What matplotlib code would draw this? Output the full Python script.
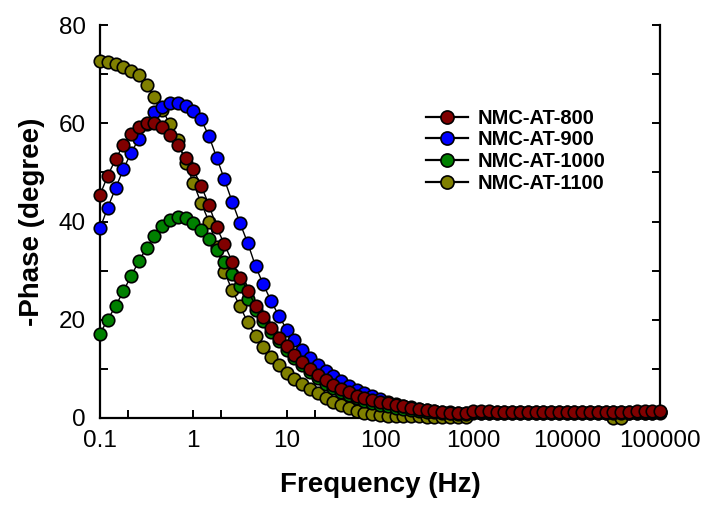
import numpy as np
import matplotlib
matplotlib.use("Agg")
import matplotlib.pyplot as plt
from matplotlib.ticker import FixedLocator, NullFormatter

plt.rcParams['font.family'] = ['Liberation Sans', 'DejaVu Sans']

# frequency sweep (Hz), 12 points per decade
freq = [0.1, 0.121, 0.147, 0.178, 0.215, 0.261, 0.316, 0.383, 0.464, 0.562, 0.681, 0.825,
        1, 1.21, 1.47, 1.78, 2.15, 2.61, 3.16, 3.83, 4.64, 5.62, 6.81, 8.25,
        10, 12.1, 14.7, 17.8, 21.5, 26.1, 31.6, 38.3, 46.4, 56.2, 68.1, 82.5,
        100, 121, 147, 178, 215, 261, 316, 383, 464, 562, 681, 825,
        1000, 1210, 1470, 1780, 2150, 2610, 3160, 3830, 4640, 5620, 6810, 8250,
        10000, 12100, 14700, 17800, 21500, 26100, 31600, 38300, 46400, 56200, 68100, 82500,
        100000]

# -phase (degree)
phase_800 = [45.4, 49.3, 52.7, 55.6, 57.8, 59.2, 60.0, 60.1, 59.2, 57.6, 55.5, 53.0,
             50.6, 47.3, 43.4, 38.8, 35.4, 31.8, 28.6, 25.9, 22.9, 20.5, 18.3, 16.3,
             14.6, 12.9, 11.4, 9.9, 8.7, 7.7, 6.8, 6.0, 5.2, 4.5, 4.0, 3.6,
             3.3, 3.0, 2.7, 2.4, 2.1, 1.9, 1.6, 1.4, 1.2, 1.1, 1.0, 1.0,
             1.5, 1.4, 1.4, 1.3, 1.3, 1.3, 1.3, 1.3, 1.3, 1.3, 1.3, 1.3,
             1.3, 1.3, 1.3, 1.3, 1.3, 1.3, 1.3, 1.3, 1.3, 1.4, 1.4, 1.4,
             1.5]
phase_900 = [38.6, 42.8, 46.8, 50.6, 54.0, 56.8, 59.8, 62.2, 63.4, 64.1, 64.2, 63.6,
             62.4, 60.8, 57.4, 53.0, 48.6, 44.0, 39.7, 35.6, 30.9, 27.2, 23.8, 20.8,
             18.0, 15.8, 13.9, 12.2, 10.8, 9.6, 8.5, 7.5, 6.6, 5.8, 5.0, 4.4,
             3.8, 3.3, 2.9, 2.5, 2.2, 1.9, 1.7, 1.5, 1.3, 1.2, 1.1, 1.0,
             1.3, 1.2, 1.2, 1.2, 1.2, 1.2, 1.2, 1.2, 1.2, 1.2, 1.2, 1.2,
             1.2, 1.2, 1.2, 1.2, 1.2, 1.2, 1.2, 1.2, 1.2, 1.2, 1.2, 1.2,
             1.3]
phase_1000 = [17.2, 20.0, 22.8, 25.8, 28.9, 31.9, 34.7, 37.1, 39.1, 40.4, 41.0, 40.7,
              39.8, 38.3, 36.5, 34.2, 31.8, 29.3, 26.8, 24.3, 22.0, 19.8, 17.6, 15.6,
              13.8, 12.2, 10.7, 9.3, 8.1, 7.0, 6.1, 5.3, 4.6, 4.0, 3.5, 3.1,
              2.7, 2.4, 2.1, 1.9, 1.7, 1.5, 1.3, 1.2, 1.1, 1.0, 0.9, 0.9,
              1.3, 1.1, 1.1, 1.1, 1.1, 1.1, 1.1, 1.1, 1.1, 1.1, 1.1, 1.1,
              1.1, 1.1, 1.1, 1.1, 1.1, 1.1, 1.1, 1.1, 1.1, 1.1, 1.1, 1.1,
              1.2]
phase_1100 = [72.6, 72.4, 72.1, 71.5, 70.6, 69.8, 67.8, 65.3, 62.8, 59.8, 56.5, 52.0,
              47.9, 43.8, 40.0, 34.8, 29.8, 26.0, 22.7, 19.5, 16.7, 14.5, 12.5, 10.8,
              9.2, 8.0, 7.0, 6.0, 5.0, 4.1, 3.3, 2.6, 2.0, 1.5, 1.1, 0.8,
              0.6, 0.5, 0.5, 0.4, 0.4, 0.4, 0.3, 0.3, 0.3, 0.3, 0.3, 0.3,
              1.0, 1.0, 1.0, 1.0, 1.0, 1.0, 1.0, 1.0, 1.0, 1.0, 1.0, 1.0,
              1.0, 1.0, 1.0, 1.0, 1.0, 1.0, 0.1, 0.1, 1.0, 1.0, 1.0, 1.0,
              1.0]

labels = ['NMC-AT-800', 'NMC-AT-900', 'NMC-AT-1000', 'NMC-AT-1100']
colors = ['#800000', '#0000ff', '#008000', '#808000']
series = [phase_800, phase_900, phase_1000, phase_1100]
zorders = [6, 5, 4, 3]

fig = plt.figure(figsize=(7.09, 5.11), dpi=100)
ax = fig.add_axes([0.141, 0.182, 0.790, 0.769])

handles = []
for y, lab, c, z in zip(series, labels, colors, zorders):
    h, = ax.plot(freq, y, '-o', color='black', lw=1.0, markerfacecolor=c,
                 markeredgecolor='black', markeredgewidth=1.2, markersize=9.0,
                 label=lab, zorder=z, clip_on=False)
    handles.append(h)

ax.set_xscale('log')
ax.set_xlim(0.1, 100000)
ax.set_ylim(0, 80)

major_x = [0.1, 1, 10, 100, 1000, 10000, 100000]
minor_x = [0.2, 2, 20, 200, 2000, 20000]
ax.xaxis.set_major_locator(FixedLocator(major_x))
ax.set_xticklabels(['0.1', '1', '10', '100', '1000', '10000', '100000'])
ax.xaxis.set_minor_locator(FixedLocator(minor_x))
ax.xaxis.set_minor_formatter(NullFormatter())
ax.set_yticks([0, 20, 40, 60, 80])
ax.yaxis.set_minor_locator(FixedLocator([10, 30, 50, 70]))

ax.spines['top'].set_visible(False)
for s in ['left', 'bottom', 'right']:
    ax.spines[s].set_linewidth(1.6)

ax.tick_params(which='both', direction='in', width=1.4, length=5.5,
               labelsize=17.5, right=True, top=False)
ax.tick_params(axis='x', which='both', pad=9)
ax.tick_params(axis='y', which='both', pad=10)

ax.set_xlabel('Frequency (Hz)', fontsize=20, fontweight='bold', labelpad=14)
ax.set_ylabel('-Phase (degree)', fontsize=20, fontweight='bold', labelpad=10)

leg = ax.legend(handles=handles, loc='upper left', bbox_to_anchor=(0.582, 0.787),
                frameon=False, prop={'weight': 'bold', 'size': 14.5},
                handlelength=2.1, handletextpad=0.45, labelspacing=0.13,
                borderaxespad=0, borderpad=0, markerscale=1.05)
for lh in leg.legend_handles:
    lh.set_zorder(10)
    lh.set_linewidth(1.6)

fig.savefig('out.png', dpi=100)
